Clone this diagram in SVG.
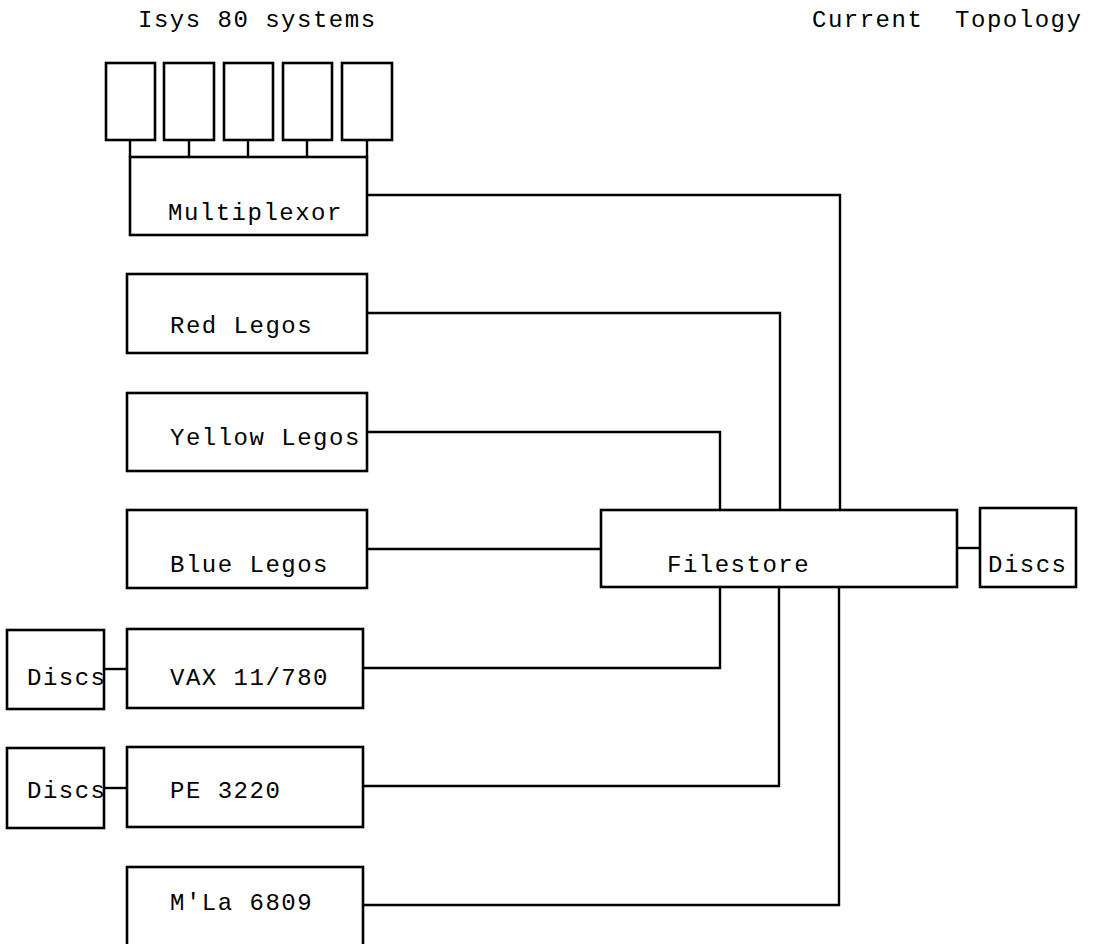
<svg xmlns="http://www.w3.org/2000/svg" width="1098" height="944" viewBox="0 0 1098 944">
<style>
.n rect{fill:none;stroke:#000;stroke-width:2.6}
.c path{fill:none;stroke:#000;stroke-width:2.4}
text{font-family:"Liberation Mono","Courier New",monospace;font-size:24px;letter-spacing:1.5px;fill:#000;white-space:pre}
</style>
<rect width="1098" height="944" fill="#fff"/>
<g id="title-left"><text x="138" y="27">Isys 80 systems</text></g>
<g id="title-right"><text x="812" y="27" xml:space="preserve">Current  Topology</text></g>
<g id="isys1" class="n"><rect x="106" y="63" width="49" height="77"/></g>
<g id="isys2" class="n"><rect x="164" y="63" width="50" height="77"/></g>
<g id="isys3" class="n"><rect x="224" y="63" width="49" height="77"/></g>
<g id="isys4" class="n"><rect x="283" y="63" width="49" height="77"/></g>
<g id="isys5" class="n"><rect x="342" y="63" width="50" height="77"/></g>
<g id="multiplexor" class="n"><rect x="130" y="157" width="237" height="78"/><text x="168" y="220">Multiplexor</text></g>
<g id="red" class="n"><rect x="127" y="274" width="240" height="79"/><text x="170" y="333">Red Legos</text></g>
<g id="yellow" class="n"><rect x="127" y="393" width="240" height="78"/><text x="170" y="445">Yellow Legos</text></g>
<g id="blue" class="n"><rect x="127" y="510" width="240" height="78"/><text x="170" y="572">Blue Legos</text></g>
<g id="filestore" class="n"><rect x="601" y="510" width="356" height="77"/><text x="667" y="572">Filestore</text></g>
<g id="discs-fs" class="n"><rect x="980" y="508" width="96" height="79"/><text x="988" y="572">Discs</text></g>
<g id="vax" class="n"><rect x="127" y="629" width="236" height="79"/><text x="170" y="685">VAX 11/780</text></g>
<g id="discs-vax" class="n"><rect x="7" y="630" width="97" height="79"/><text x="27" y="685">Discs</text></g>
<g id="pe" class="n"><rect x="127" y="747" width="236" height="80"/><text x="170" y="798">PE 3220</text></g>
<g id="discs-pe" class="n"><rect x="7" y="748" width="97" height="80"/><text x="27" y="798">Discs</text></g>
<g id="mla" class="n"><rect x="127" y="867" width="236" height="80"/><text x="170" y="910">M'La 6809</text></g>
<g id="connectors" class="c">
<path d="M130 140V157M189 140V157M248 140V157M307 140V157M367 140V157"/>
<path d="M367 195H840V510"/>
<path d="M367 313H780V510"/>
<path d="M367 432H720V510"/>
<path d="M367 549H601"/>
<path d="M957 548H980"/>
<path d="M104 669H127"/>
<path d="M104 788H127"/>
<path d="M363 668H720V587"/>
<path d="M363 786H779V587"/>
<path d="M363 905H839V587"/>
</g>
</svg>
